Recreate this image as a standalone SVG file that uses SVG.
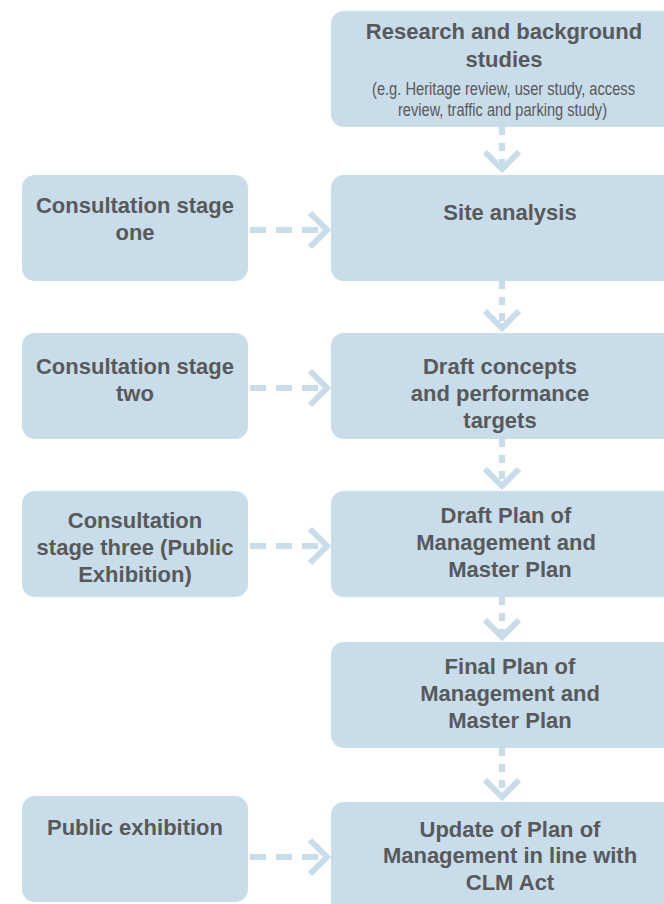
<svg xmlns="http://www.w3.org/2000/svg" width="664" height="904" viewBox="0 0 664 904">
<style>
.box{fill:#c8dcea}
.t{font-family:"Liberation Sans",Arial,sans-serif;font-weight:bold;font-size:22px;fill:#58595b;text-anchor:middle}
.s{font-family:"Liberation Sans",Arial,sans-serif;font-size:17.5px;fill:#58595b;text-anchor:middle}
.dh{stroke:#c8dcea;stroke-width:6;fill:none;stroke-dasharray:16 10}
.dv{stroke:#c8dcea;stroke-width:6;fill:none;stroke-dasharray:8 8}
.ch{stroke:#c8dcea;stroke-width:6;fill:none;stroke-linejoin:miter}
</style>
<rect width="664" height="904" fill="#ffffff"/>
<g id="connectors">
  <line class="dv" x1="502" y1="127" x2="502" y2="168"/>
  <polyline class="ch" points="485,152 502,169 519,152"/>
  <line class="dv" x1="502" y1="281" x2="502" y2="326"/>
  <polyline class="ch" points="485,311 502,328 519,311"/>
  <line class="dv" x1="502" y1="439" x2="502" y2="485"/>
  <polyline class="ch" points="485,469 502,486 519,469"/>
  <line class="dv" x1="502" y1="597" x2="502" y2="636"/>
  <polyline class="ch" points="485,620 502,637 519,620"/>
  <line class="dv" x1="502" y1="748" x2="502" y2="796"/>
  <polyline class="ch" points="485,780 502,797 519,780"/>
  <line class="dh" x1="250" y1="230" x2="326" y2="230"/>
  <polyline class="ch" points="310,213 327,230 310,247"/>
  <line class="dh" x1="250" y1="388" x2="326" y2="388"/>
  <polyline class="ch" points="310,371 327,388 310,405"/>
  <line class="dh" x1="250" y1="546" x2="326" y2="546"/>
  <polyline class="ch" points="310,529 327,546 310,563"/>
  <line class="dh" x1="250" y1="857" x2="326" y2="857"/>
  <polyline class="ch" points="310,840 327,857 310,874"/>
</g>
<g id="research">
  <rect class="box" x="331" y="11" width="350" height="116" rx="13"/>
  <text class="t" x="504" y="39">Research and background</text>
  <text class="t" x="504" y="67">studies</text>
  <text class="s" x="503.5" y="95" textLength="263" lengthAdjust="spacingAndGlyphs">(e.g. Heritage review, user study, access</text>
  <text class="s" x="502.5" y="116" textLength="209" lengthAdjust="spacingAndGlyphs">review, traffic and parking study)</text>
</g>
<g id="site">
  <rect class="box" x="331" y="175" width="350" height="106" rx="13"/>
  <text class="t" x="510" y="220">Site analysis</text>
</g>
<g id="draft-concepts">
  <rect class="box" x="331" y="333" width="350" height="106" rx="13"/>
  <text class="t" x="500" y="374">Draft concepts</text>
  <text class="t" x="500" y="401">and performance</text>
  <text class="t" x="500" y="428">targets</text>
</g>
<g id="draft-plan">
  <rect class="box" x="331" y="491" width="350" height="106" rx="13"/>
  <text class="t" x="506" y="523">Draft Plan of</text>
  <text class="t" x="506" y="550">Management and</text>
  <text class="t" x="510" y="577">Master Plan</text>
</g>
<g id="final-plan">
  <rect class="box" x="331" y="642" width="350" height="106" rx="13"/>
  <text class="t" x="510" y="674">Final Plan of</text>
  <text class="t" x="510" y="701">Management and</text>
  <text class="t" x="510" y="728">Master Plan</text>
</g>
<g id="update">
  <rect class="box" x="331" y="802" width="350" height="130" rx="13"/>
  <text class="t" x="510" y="837">Update of Plan of</text>
  <text class="t" x="510" y="863">Management in line with</text>
  <text class="t" x="510" y="890">CLM Act</text>
</g>
<g id="consult-one">
  <rect class="box" x="22" y="175" width="226" height="106" rx="13"/>
  <text class="t" x="135" y="213">Consultation stage</text>
  <text class="t" x="135" y="240">one</text>
</g>
<g id="consult-two">
  <rect class="box" x="22" y="333" width="226" height="106" rx="13"/>
  <text class="t" x="135" y="374">Consultation stage</text>
  <text class="t" x="135" y="401">two</text>
</g>
<g id="consult-three">
  <rect class="box" x="22" y="491" width="226" height="106" rx="13"/>
  <text class="t" x="135" y="528">Consultation</text>
  <text class="t" x="135" y="555">stage three (Public</text>
  <text class="t" x="135" y="582">Exhibition)</text>
</g>
<g id="public-exhibition">
  <rect class="box" x="22" y="796" width="226" height="106" rx="13"/>
  <text class="t" x="135" y="835">Public exhibition</text>
</g>
</svg>
